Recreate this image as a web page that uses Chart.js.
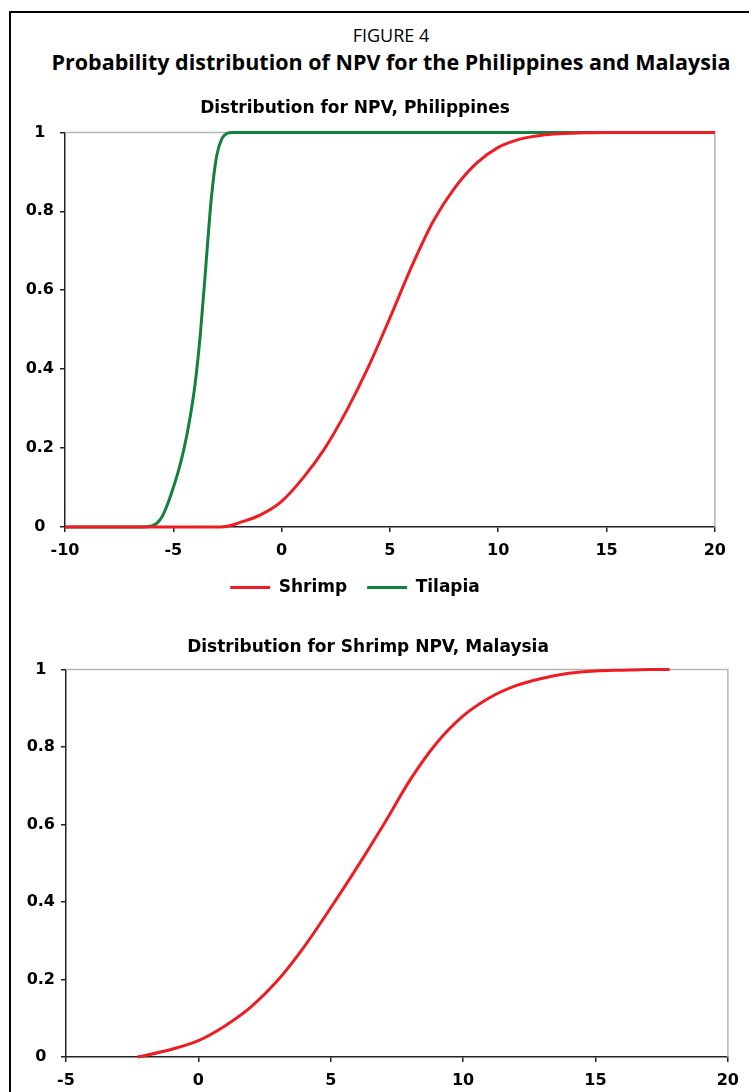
<!DOCTYPE html>
<html>
<head>
<meta charset="utf-8">
<script src="https://cdn.jsdelivr.net/npm/chart.js@4/dist/chart.umd.min.js"></script>
<style>
  html, body { margin: 0; padding: 0; background: #fff; overflow: hidden; }
  body { width: 749px; height: 1092px; position: relative; }
  #frame { position: absolute; left: 9px; top: 11px; width: 900px; height: 1200px;
           border-left: 2px solid #000; border-top: 2px solid #000; }
  .head { position: absolute; left: 0; width: 782px; text-align: center; color: #000;
          font-family: "Open Sans", sans-serif; white-space: nowrap; }
  #fig { top: 23px; font-size: 18px; line-height: 24px; }
  #main { top: 48px; font-size: 21.5px; line-height: 28px; font-weight: bold; }
  canvas { position: absolute; }
  #phil { left: -25px; top: 85px; }
  #malay { left: -12px; top: 620px; }
</style>
</head>
<body>
<div id="frame"></div>
<div class="head" id="fig">FIGURE 4</div>
<div class="head" id="main">Probability distribution of NPV for the Philippines and Malaysia</div>
<canvas id="phil" width="760" height="521"></canvas>
<canvas id="malay" width="760" height="472"></canvas>
<script>
// Philippines: cumulative probability vs NPV
const shrimpPhNpv  = [-10, -2.8, -2.4, -2, -1, 0, 1, 2, 3, 4, 5, 6, 7, 8, 9, 10, 11, 12, 13, 14, 15, 20];
const shrimpPhProb = [0, 0, 0.003, 0.01, 0.03, 0.065, 0.125, 0.2, 0.295, 0.405, 0.53, 0.66, 0.775, 0.86, 0.922, 0.962, 0.983, 0.993, 0.997, 0.999, 1, 1];
const tilapiaNpv   = [-10, -6.5, -6, -5.75, -5.5, -5.25, -5, -4.75, -4.5, -4.25, -4, -3.75, -3.5, -3.25, -3, -2.75, -2.5, -2.25, 20];
const tilapiaProb  = [0, 0, 0.003, 0.01, 0.028, 0.06, 0.1, 0.145, 0.2, 0.27, 0.36, 0.49, 0.66, 0.83, 0.94, 0.985, 0.998, 1, 1];

// Malaysia: shrimp only
const shrimpMyNpv  = [-2.3, -2, -1, 0, 1, 2, 3, 4, 5, 6, 7, 8, 9, 10, 11, 12, 13, 14, 15, 16, 17, 17.8];
const shrimpMyProb = [0, 0.004, 0.02, 0.042, 0.08, 0.13, 0.198, 0.285, 0.385, 0.49, 0.6, 0.715, 0.81, 0.88, 0.927, 0.958, 0.977, 0.99, 0.996, 0.998, 0.9995, 1];

const xTicksPh = [-10, -5, 0, 5, 10, 15, 20];
const xTicksMy = [-5, 0, 5, 10, 15, 20];
const yTicks = [0, 0.2, 0.4, 0.6, 0.8, 1];

const RED = '#ee1d24';
const GREEN = '#13803e';
const FONT = 'DejaVu Sans';

// light grey top and right edge of the plot box
const boxEdges = {
  id: 'boxEdges',
  beforeDatasetsDraw(chart) {
    const {ctx, chartArea: a} = chart;
    ctx.save();
    ctx.strokeStyle = '#b4b4b4';
    ctx.lineWidth = 1.5;
    ctx.beginPath();
    ctx.moveTo(a.left, a.top);
    ctx.lineTo(a.right, a.top);
    ctx.lineTo(a.right, a.bottom);
    ctx.stroke();
    ctx.restore();
  }
};

function pts(xs, ys) {
  return xs.map((x, i) => ({x: x, y: ys[i]}));
}

function line(label, xs, ys, color) {
  return {
    label: label, data: pts(xs, ys),
    borderColor: color, backgroundColor: color,
    borderWidth: 3, pointRadius: 0,
    cubicInterpolationMode: 'monotone', clip: 6
  };
}

function scales(xTicks, yWidth) {
  const tickFont = {family: FONT, weight: 'bold', size: 16};
  return {
    x: {
      type: 'linear', min: xTicks[0], max: xTicks[xTicks.length - 1],
      afterBuildTicks: s => { s.ticks = xTicks.map(v => ({value: v})); },
      afterFit: s => { s.height = 32; },
      grid: {drawOnChartArea: false, tickLength: 5, color: '#222', lineWidth: 1.5},
      border: {color: '#222', width: 1.5},
      ticks: {font: tickFont, color: '#000', padding: 9, maxRotation: 0, callback: v => String(v)}
    },
    y: {
      min: 0, max: 1,
      afterBuildTicks: s => { s.ticks = yTicks.map(v => ({value: v})); },
      afterFit: s => { s.width = yWidth; },
      grid: {drawOnChartArea: false, tickLength: 5, color: '#222', lineWidth: 1.5},
      border: {color: '#222', width: 1.5},
      ticks: {font: tickFont, color: '#000', padding: 6, crossAlign: 'center', callback: v => String(v)}
    }
  };
}

function title(text, top, bottom) {
  return {
    display: true, text: text, color: '#000',
    font: {family: FONT, weight: 'bold', size: 17, lineHeight: 1.2},
    padding: {top: top, bottom: bottom}
  };
}

new Chart(document.getElementById('phil'), {
  type: 'line',
  data: {
    datasets: [
      line('Shrimp', shrimpPhNpv, shrimpPhProb, RED),
      line('Tilapia', tilapiaNpv, tilapiaProb, GREEN)
    ]
  },
  options: {
    responsive: false, animation: false, events: [], devicePixelRatio: 1,
    layout: {padding: {left: 20, right: 20, top: 0, bottom: 0}},
    scales: scales(xTicksPh, 70),
    plugins: {
      title: title('Distribution for NPV, Philippines', 13, 14),
      legend: {
        position: 'bottom',
        labels: {
          usePointStyle: true, pointStyle: 'line', pointStyleWidth: 40,
          padding: 20, color: '#000',
          font: {family: FONT, weight: 'bold', size: 17}
        }
      },
      tooltip: {enabled: false}
    }
  },
  plugins: [boxEdges]
});

new Chart(document.getElementById('malay'), {
  type: 'line',
  data: {
    datasets: [line('Shrimp', shrimpMyNpv, shrimpMyProb, RED)]
  },
  options: {
    responsive: false, animation: false, events: [], devicePixelRatio: 1,
    layout: {padding: {left: 16, right: 16, top: 0, bottom: 3}},
    scales: scales(xTicksMy, 62),
    plugins: {
      title: title('Distribution for Shrimp NPV, Malaysia', 17, 12),
      legend: {display: false},
      tooltip: {enabled: false}
    }
  },
  plugins: [boxEdges]
});
</script>
</body>
</html>
